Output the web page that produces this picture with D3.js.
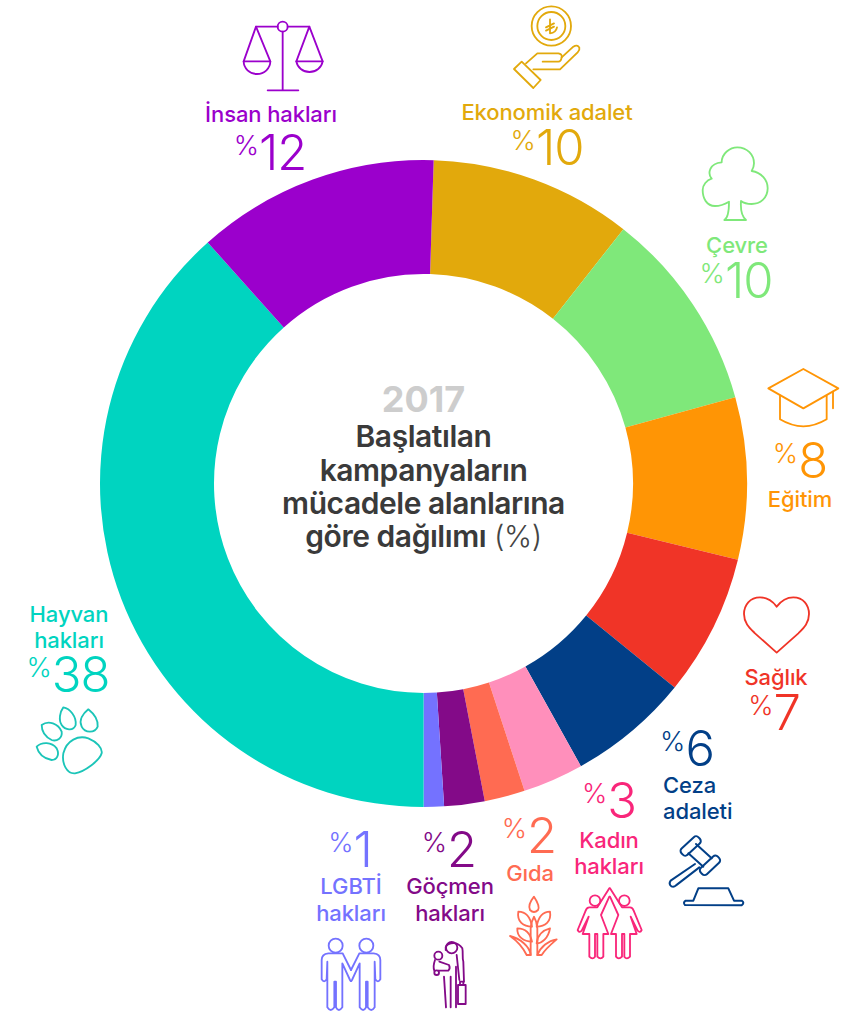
<!DOCTYPE html>
<html lang="tr"><head><meta charset="utf-8">
<script src="https://cdnjs.cloudflare.com/ajax/libs/d3/7.8.5/d3.min.js"></script>
<style>html,body{margin:0;background:#fff}svg{display:block}text{font-family:Inter,"Noto Sans",sans-serif}</style>
</head><body><svg id="c" width="864" height="1016"></svg>
<script>
const categories=["Ekonomik adalet","Çevre","Eğitim","Sağlık","Ceza adaleti","Kadın hakları","Gıda","Göçmen hakları","LGBTİ hakları","Hayvan hakları","İnsan hakları"];
const values=[10,10,8,7,6,3,2,2,1,38,12];
const sliceColors=["#e2a90c","#7fe87a","#ff9505","#f03427","#023f87","#ff8fbb","#ff6b52","#830a88","#7472ff","#00d4c0","#9b00cc"];
const textColors=["#e2a90c","#7fe87a","#ff9505","#f03427","#023f87","#f9267a","#ff6b52","#830a88","#7472ff","#00d4c0","#9b00cc"];
const labelLines=[["Ekonomik adalet"],["Çevre"],["Eğitim"],["Sağlık"],["Ceza","adaleti"],["Kadın","hakları"],["Gıda"],["Göçmen","hakları"],["LGBTİ","hakları"],["Hayvan","hakları"],["İnsan hakları"]];
const titleYear="2017";
const titleLines=["Başlatılan","kampanyaların","mücadele alanlarına","göre dağılımı"];

// layout: label centre, baselines of the name lines and of the value
const layout=[
 {x:547,names:[120],num:165,nx:547},
 {x:737,names:[253],num:298,nx:736},
 {x:800,names:[507],num:478,nx:800},
 {x:776,names:[685],num:730,nx:774},
 {x:663,anchor:"start",names:[793,819],num:766,nx:687},
 {x:609,names:[848,874],num:818,nx:609},
 {x:530,names:[881],num:853,nx:529},
 {x:450,names:[894,921],num:867,nx:449},
 {x:351,names:[894,921],num:867,nx:350},
 {x:69,names:[622,648],num:692,nx:68},
 {x:271,names:[122],num:170,nx:270}
];
const svg=d3.select("#c");
const cx=423.5,cy=483.5,R=323.5,r=209.5;
const pie=d3.pie().sort(null).value(d=>d).startAngle(1.8*Math.PI/180).endAngle((361.8)*Math.PI/180);
const arc=d3.arc().innerRadius(r).outerRadius(R);
svg.append("g").attr("transform",`translate(${cx},${cy})`).selectAll("path").data(pie(values)).join("path")
  .attr("d",arc).attr("fill",(d,i)=>sliceColors[i]);

// labels
const lab=svg.append("g");
layout.forEach((l,i)=>{
  const c=textColors[i];
  labelLines[i].forEach((t,j)=>{
    lab.append("text").attr("x",l.x).attr("y",l.names[j]).attr("text-anchor",l.anchor||"middle")
      .attr("fill",c).attr("font-size",22).attr("font-weight",500).attr("letter-spacing",-0.1).text(t);
  });
  const n=lab.append("text").attr("x",l.nx).attr("y",l.num).attr("text-anchor","middle").attr("fill",c).attr("font-weight",300);
  n.append("tspan").attr("font-size",27).attr("dy",-15).text("%");
  n.append("tspan").attr("font-size",49).attr("dy",15).attr("letter-spacing",-1).text(values[i]);
});

// centre title
const tg=svg.append("g").attr("text-anchor","middle");
tg.append("text").attr("x",cx).attr("y",412).attr("font-size",36).attr("font-weight",700).attr("fill","#cdcdcd").text(titleYear);
[447,481,514,547].forEach((y,i)=>{
  const t=tg.append("text").attr("x",cx).attr("y",y).attr("font-size",30).attr("font-weight",600).attr("letter-spacing",-0.45).attr("fill","#3a3a3a").text(titleLines[i]);
  if(i===3) t.append("tspan").attr("font-weight",300).attr("fill","#444").text(" (%)");
});

// icons, drawn in crop coordinates: origin and 1/3 scale
function icon(ox,oy,color,sw){
  return svg.append("g").attr("transform",`translate(${ox},${oy}) scale(${1/3})`)
    .attr("fill","none").attr("stroke",color).attr("stroke-width",sw||5.5).attr("stroke-linejoin","round").attr("stroke-linecap","round");
}
const P=(g,d)=>g.append("path").attr("d",d);
const C=(g,x,y,rr)=>g.append("circle").attr("cx",x).attr("cy",y).attr("r",rr);

// scales
let g=icon(200,0,textColors[10]);
P(g,"M168,80H233M263,80H328M248,95V271M203,271H295");
P(g,"M168,80L131,184H211ZM328,80L289,184H368Z");
P(g,"M131,184A40,38 0 0 0 211,184M289,184A40,38 0 0 0 368,184");
C(g,248,80,15);

// coin in hand
g=icon(200,0,textColors[0]);
C(g,1054,78,59);C(g,1054,78,42);
P(g,"M1050,58V100Q1068,98 1071,82M1038,82L1062,70M1038,92L1062,80");
P(g,"M965,185L942,207L1000,264L1022,240Z");
P(g,"M978,190L1012,160H1075Q1087,162 1085,172Q1083,185 1075,185H1028");
P(g,"M1085,172L1120,140Q1132,132 1138,143Q1140,150 1133,157L1080,208H1000");

// tree
g=icon(660,130,textColors[1]);
P(g,"M193,270H258Q240,255 243,213Q255,222 275,222C300,222 323,205 323,175C323,150 305,128 275,123Q282,112 282,100C282,75 262,52 232,52C210,52 185,70 185,97C148,100 142,130 155,146C140,150 128,165 128,180C128,205 140,228 165,228Q185,228 207,215Q207,262 193,270Z");

// graduation cap
g=icon(660,130,textColors[2]);
P(g,"M430,717L535,775L430,835L325,775Z");
P(g,"M360,797V868Q430,910 500,868V797M519,785V835");

// heart
g=icon(640,580,textColors[3]);
P(g,"M410,80C395,60 375,52 360,52C330,52 312,75 312,102C312,130 330,145 345,160L410,218L475,160C490,145 507,130 507,102C507,75 490,52 460,52C445,52 425,60 410,80Z");

// gavel
g=icon(640,580,textColors[4],6);
g.append("rect").attr("x",-35).attr("y",-13).attr("width",70).attr("height",26).attr("rx",10).attr("transform","translate(152,798) rotate(-43)");
g.append("rect").attr("x",-35).attr("y",-13).attr("width",70).attr("height",26).attr("rx",10).attr("transform","translate(210,856) rotate(-43)");
P(g,"M168,792L215,835M145,820L190,860");
P(g,"M165,852L92,902Q85,912 94,919Q102,922 108,916L178,862");
P(g,"M135,975Q128,968 137,962H160L175,925H265L282,962H305Q315,968 305,976Z");

// women
g=icon(300,780,textColors[5]);
const woman="M928,325L892,382H868Q860,382 857,392L833,450Q838,460 845,452L866,410L848,462H868V530Q878,540 885,530V462H892V530Q902,540 910,530V462H925L903,405L928,350";
C(g,885,362,16);C(g,973,362,16);
P(g,woman);
P(g,woman).attr("transform","translate(1858,0) scale(-1,1)");

// plant
g=icon(300,780,textColors[6]);
P(g,"M702,350C690,365 685,380 690,390Q702,402 714,390C720,380 712,365 702,350Z");
P(g,"M692,525V445M712,525V445M692,445Q693,425 702,410Q711,425 712,445");
P(g,"M655,395C672,395 690,405 696,440C670,440 650,425 655,395Z");
P(g,"M750,395C732,395 716,405 710,440C735,440 755,425 750,395Z");
P(g,"M652,445C672,445 690,455 696,485C672,485 650,470 652,445Z");
P(g,"M630,468C660,475 690,500 692,525H680C670,505 655,485 630,468Z");
P(g,"M770,478C745,482 722,500 712,525H725C735,508 750,495 770,478Z");
P(g,"M710,490C725,490 745,475 750,445C730,450 712,465 710,490Z");

// migrant
g=icon(300,780,textColors[7]);
C(g,455,503,17);C(g,415,527,12);C(g,410,578,7);
P(g,"M437,510C430,490 470,478 487,505C490,520 486,535 490,545L492,605");
P(g,"M470,525L478,600");
P(g,"M405,540Q398,560 403,572M418,545L447,555Q452,565 445,572H415");
P(g,"M432,590L438,682M452,590V682M468,560V682");
P(g,"M474,615H497V672H474ZM480,615V605H490V615");

// couple
g=icon(300,780,textColors[8]);
C(g,107,497,21);C(g,199,497,21);
const man="M85,520Q65,522 65,540V598Q72,610 80,598L82,545V682Q92,698 103,682V605H108V682Q116,698 127,682V550L150,600Q153,605 153,603M128,520H85M128,520L153,570";
P(g,man);
P(g,man).attr("transform","translate(306,0) scale(-1,1)");

// paw
g=icon(10,590,"#1bc5b8");
P(g,"M160,490C170,450 205,435 235,445C260,455 278,475 275,490C270,510 225,545 195,550C170,552 155,520 160,490Z");
P(g,"M80,470C95,455 125,455 140,475C150,495 140,510 125,510C100,505 85,490 80,470Z");
P(g,"M95,405C115,390 145,400 155,425C158,445 140,455 125,450C105,440 95,425 95,405Z");
P(g,"M160,352C180,355 200,380 197,405C190,425 165,420 155,405C145,390 150,365 160,352Z");
P(g,"M235,358C250,370 265,390 263,410C255,430 225,430 215,410C205,390 220,370 235,358Z");
</script></body></html>
